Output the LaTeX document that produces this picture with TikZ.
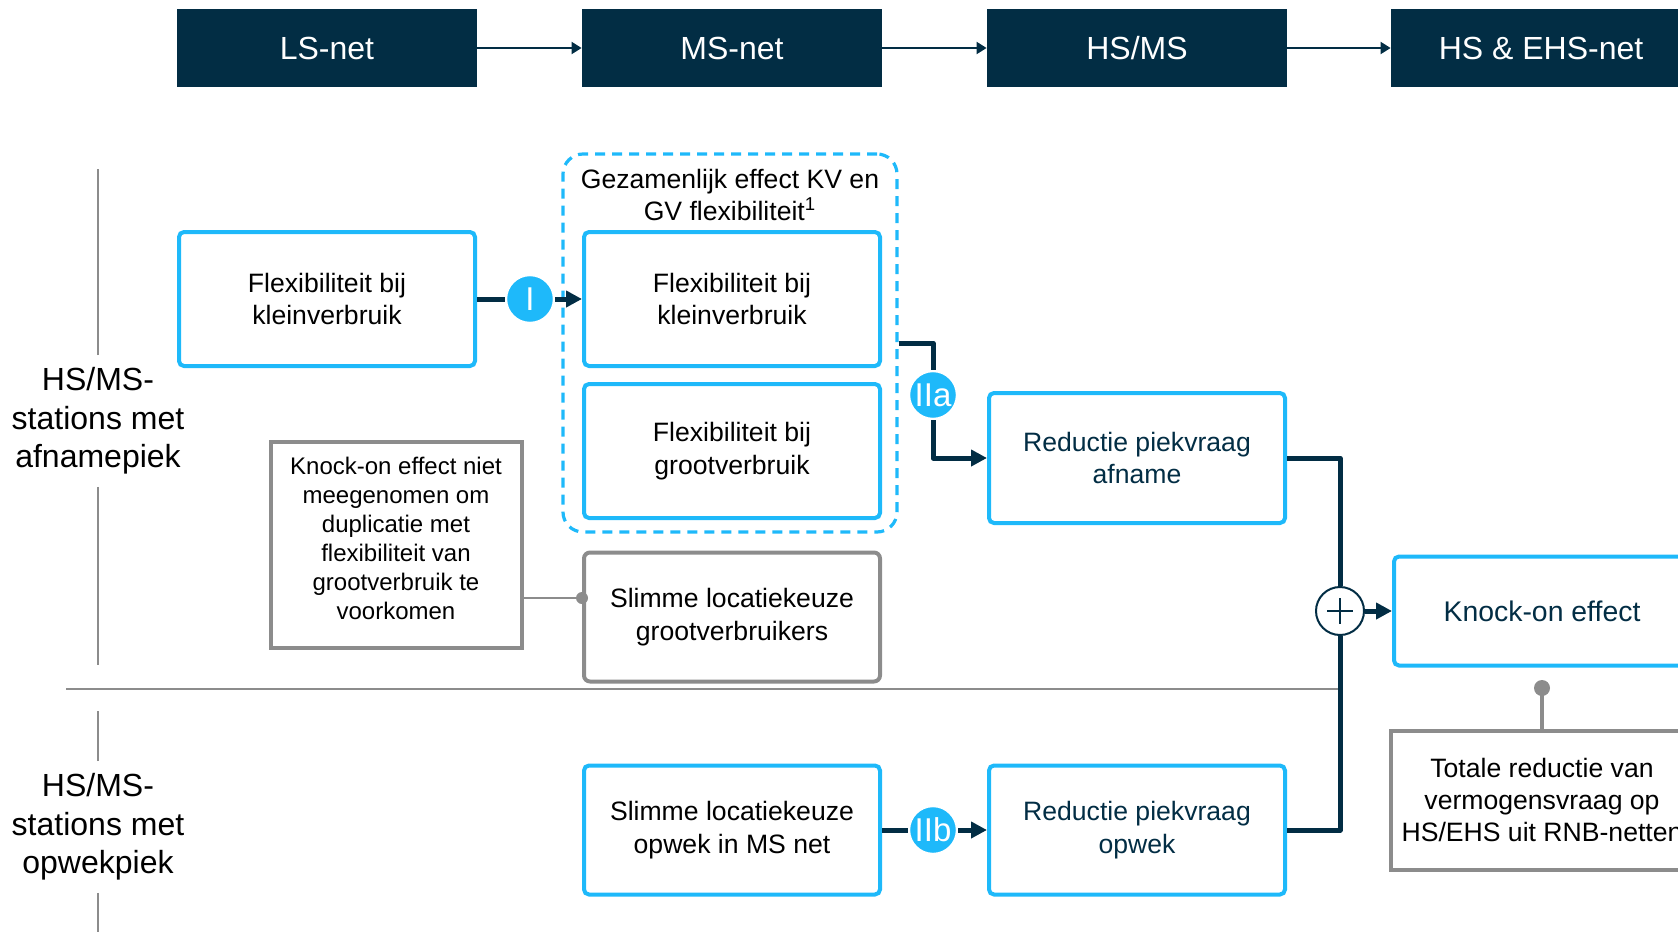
\documentclass[tikz,border=0pt]{standalone}
\usepackage{fontspec}
\setmainfont{Liberation Sans}
\usetikzlibrary{arrows.meta}
\definecolor{navy}{RGB}{2,45,68}
\definecolor{skyblue}{RGB}{30,185,250}
\definecolor{midgray}{RGB}{140,140,140}
\newcommand{\boxfont}{\fontsize{13.3}{16.2}\selectfont}
\newcommand{\bigfont}{\fontsize{16}{19.3}\selectfont}
\tikzset{
	headbox/.style = {fill=navy, text=white, minimum width=150pt, minimum height=39pt, inner sep=0pt, font=\bigfont},
	flexbox/.style = {draw=skyblue, line width=2pt, rounded corners=2.5pt, align=center, minimum width=148pt, minimum height=67pt, font=\boxfont},
	result/.style = {flexbox, text=navy, minimum height=65pt},
	slimbox/.style = {flexbox, draw=midgray, rounded corners=3pt, minimum height=64.5pt},
	notebox/.style = {draw=midgray, line width=2pt, align=center, inner sep=0pt},
	groupbox/.style = {draw=skyblue, line width=1.6pt, dash pattern=on 5pt off 3.5pt, rounded corners=10pt, minimum width=167pt, minimum height=189pt},
	badge/.style = {circle, fill=skyblue, draw=white, line width=1.2pt, text=white, minimum size=24pt, inner sep=0pt, font=\fontsize{16.5}{16.5}\selectfont},
	sumnode/.style = {circle, draw=navy, line width=1pt, fill=white, minimum size=24pt, inner sep=0pt},
	sidelabel/.style = {align=center, inner xsep=0pt, inner ysep=6pt, font=\bigfont},
	divider/.style = {draw=midgray, line width=0.8pt},
	noteline/.style = {draw=midgray, line width=1.3pt},
	flow/.style = {draw=navy, line width=2.5pt, line join=round},
	flowarrow/.style = {flow, -{Triangle[length=8pt,width=8pt]}},
	netarrow/.style = {draw=navy, line width=1pt, -{Triangle[length=5pt,width=6pt]}}
}

\begin{document}
\begin{tikzpicture}[x=0.5pt, y=-0.5pt]
		\clip (0,0) rectangle (1678,932);
		\node [headbox] (lsnet) at (327,48) {LS-net};
		\node [headbox] (msnet) at (732,48) {MS-net};
		\node [headbox] (hsms) at (1137,48) {HS/MS};
		\node [headbox] (hsehs) at (1541,48) {HS \& EHS-net};
		\draw [netarrow] (lsnet) -- (msnet);
		\draw [netarrow] (msnet) -- (hsms);
		\draw [netarrow] (hsms) -- (hsehs);

		\node [sidelabel] (afnamepiek) at (98,421) {HS/MS-\\stations met\\afnamepiek};
		\node [sidelabel] (opwekpiek) at (98,827) {HS/MS-\\stations met\\opwekpiek};
		\draw [divider] (afnamepiek.north) -- ++(0,-186);
		\draw [divider] (afnamepiek.south) -- ++(0,178);
		\draw [divider] (opwekpiek.north) -- ++(0,-50);
		\draw [divider] (opwekpiek.south) -- ++(0,40);
		\coordinate (sepstart) at (66,689);
		\coordinate (sepend) at (1340,689);
		\draw [divider] (sepstart) -- (sepend);

		\node [groupbox] (kvgv) at (730,343) {};
		\node [align=center, font=\boxfont] (grouptitle) at (730,195) {Gezamenlijk effect KV en\\GV flexibiliteit\textsuperscript{1}};
		\node [flexbox] (kvlinks) at (327,299) {Flexibiliteit bij\\kleinverbruik};
		\node [flexbox] (kvmidden) at (732,299) {Flexibiliteit bij\\kleinverbruik};
		\node [flexbox] (gvmidden) at (732,451) {Flexibiliteit bij\\grootverbruik};
		\node [result] (redafname) at (1137,458) {Reductie piekvraag\\afname};
		\node [slimbox] (slimgv) at (732,617) {Slimme locatiekeuze\\grootverbruikers};
		\node [notebox, minimum width=125.5pt, minimum height=103pt, font=\fontsize{12}{14.5}\selectfont] (knocknote) at (396,545) {Knock-on effect niet\\meegenomen om\\duplicatie met\\flexibiliteit van\\grootverbruik te\\voorkomen\rule[-6.5pt]{0pt}{0pt}};
		\node [flexbox, minimum height=64.5pt] (slimopwek) at (732,830) {Slimme locatiekeuze\\opwek in MS net};
		\node [result, minimum height=64.5pt] (redopwek) at (1137,830) {Reductie piekvraag\\opwek};
		\node [result, minimum height=54.5pt, font=\fontsize{14.2}{17}\selectfont] (knockon) at (1542,611) {Knock-on effect};
		\node [notebox, minimum width=151pt, minimum height=69.5pt, font=\boxfont] (totaal) at (1542,800) {Totale reductie van\\vermogensvraag op\\HS/EHS uit RNB-netten};
		\node [sumnode] (plus) at (1340,611) {};
		\draw [navy, line width=1pt] (plus.center) +(-13,0) -- +(13,0) +(0,-13) -- +(0,13);

		\node [badge] (stapI) at (530,299) {I};
		\node [badge] (stapIIa) at (933,395) {IIa};
		\node [badge] (stapIIb) at (933,830) {IIb};

		\draw [flow] (kvlinks) -- (stapI);
		\draw [flowarrow] (stapI) -- (kvmidden);
		\draw [flow] (kvgv.east) -| (stapIIa);
		\draw [flowarrow] (stapIIa) |- (redafname);
		\draw [flow] (slimopwek) -- (stapIIb);
		\draw [flowarrow] (stapIIb) -- (redopwek);
		\draw [flow] (redafname) -| (plus);
		\draw [flow] (redopwek) -| (plus);
		\draw [flowarrow] (plus) -- (knockon);

		\coordinate (gvdot) at (582,598);
		\draw [noteline] (knocknote.east |- gvdot) -- (gvdot);
		\fill [midgray] (gvdot) circle (3pt);
		\coordinate (kodot) at (1542,688);
		\draw [noteline, line width=2pt] (kodot) -- (totaal.north);
		\fill [midgray] (kodot) circle (4pt);
\end{tikzpicture}
\end{document}
